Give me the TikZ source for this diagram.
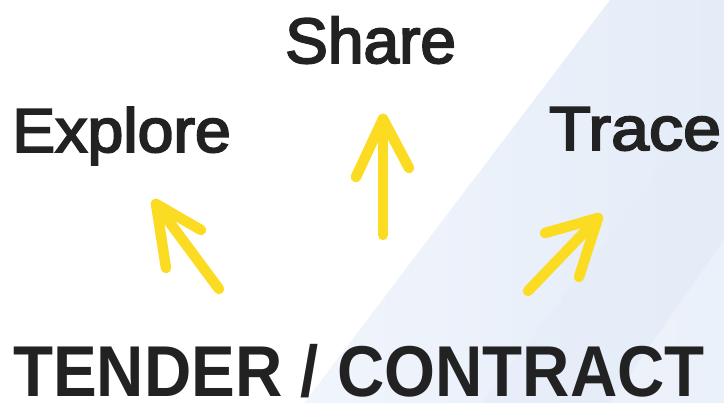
\documentclass[tikz,border=0pt]{standalone}
\usepackage{fontspec}
\setmainfont{Liberation Sans}
\newfontfamily\mediumface[FakeBold=3]{Liberation Sans}
\usepackage{tikz}

\definecolor{inkgrey}{HTML}{222222}
\definecolor{markeryellow}{HTML}{FCDC22}
\definecolor{bandlight}{HTML}{F1F5FC}
\definecolor{banddark}{HTML}{E4ECF8}

\tikzset{
    verb/.style={anchor=base west, text=inkgrey, inner sep=0pt, text depth=0pt, transform shape, font=\mediumface\fontsize{62}{62}\selectfont},
    marker/.style={draw=markeryellow, line width=10.5pt, line cap=round, line join=round}
}

\begin{document}
\begin{tikzpicture}[x=1pt, y=-1pt]
            \useasboundingbox (0,0) rectangle (724,403);
            \fill[white] (0,0) rectangle (724,403);

            % light diagonal bands
            \shade[left color=bandlight, right color=banddark] (610,0) -- (724,0) -- (724,403) -- (304,403) -- cycle;
            \fill[banddark, opacity=0.45] (724,85) -- (724,403) -- (482,403) -- cycle;
            \fill[bandlight, opacity=0.6] (724,240) -- (724,403) -- (610,403) -- cycle;

            \node[verb, font=\mediumface\fontsize{64}{64}\selectfont] (share) at (285,63) {Share};
            \node[verb, xscale=1.04] (explore) at (12,152) {Explore};
            \node[verb, xscale=1.1, font=\mediumface\fontsize{62}{62}\selectfont] (trace) at (549,150) {Trace};
            \node[anchor=base, text=inkgrey, inner sep=0pt, text depth=0pt, font=\fontsize{72}{72}\selectfont\bfseries, xscale=0.91, transform shape] (tender) at (359,397) {TENDER / CONTRACT};

            % yellow marker arrows
            \coordinate (share tip) at (383,119);
            \coordinate (share tail) at (383,235);
            \draw[marker] (share tail) -- (share tip);
            \draw[marker] (356,177) -- (share tip) -- (409,168);

            \coordinate (explore tip) at (156,204);
            \coordinate (explore tail) at (219,289);
            \draw[marker] (explore tail) -- (explore tip);
            \draw[marker] (201,230) -- (explore tip) -- (166,268);

            \coordinate (trace tip) at (598,218);
            \coordinate (trace tail) at (528,291);
            \draw[marker] (trace tail) -- (trace tip);
            \draw[marker] (545,233) -- (trace tip) -- (579,277);
        \end{tikzpicture}
\end{document}
